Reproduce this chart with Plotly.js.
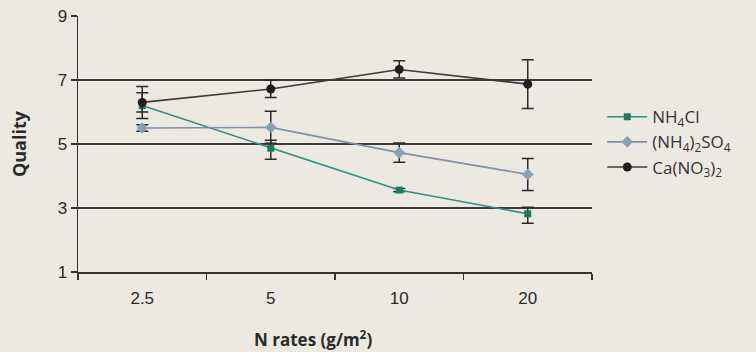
<!DOCTYPE html>
<html>
<head>
<meta charset="utf-8">
<script src="https://cdn.plot.ly/plotly-3.0.1.min.js"></script>
<style>html,body{margin:0;padding:0;background:#ebe7e0;}</style>
</head>
<body>
<div id="chart" style="width:756px;height:352px;"></div>
<script>
var categories = ["2.5", "5", "10", "20"];
var nh4clValues = [6.2, 4.87, 3.56, 2.82];
var nh4clErrPlus = [0.4, 0.25, 0.05, 0.2];
var nh4clErrMinus = [0.2, 0.35, 0.05, 0.3];
var so4Values = [5.5, 5.52, 4.73, 4.05];
var so4Err = [0.1, 0.5, 0.3, 0.5];
var caValues = [6.3, 6.72, 7.33, 6.87];
var caErr = [0.5, 0.27, 0.27, 0.76];
var seriesNames = ["NH<sub>4</sub>Cl", "(NH<sub>4</sub>)<sub>2</sub>SO<sub>4</sub>", "Ca(NO<sub>3</sub>)<sub>2</sub>"];
var yTicks = [1, 3, 5, 7, 9];
var xTitle = "<b>N rates (g/m<sup>2</sup>)</b>";
var yTitle = "<b>Quality</b>";

function mkTrace(name, vals, plus, minus, lineColor, mColor, symbol, size) {
  return {
    type: 'scatter', mode: 'lines+markers', name: name,
    x: categories, y: vals,
    line: {color: lineColor, width: 1.6},
    marker: {color: mColor, symbol: symbol, size: size},
    error_y: {type: 'data', array: plus, arrayminus: minus, symmetric: false,
      color: '#2a2a2a', thickness: 1.5, width: 6}
  };
}

var data = [
  mkTrace(seriesNames[0], nh4clValues, nh4clErrPlus, nh4clErrMinus, '#2f8f83', '#1f7a5e', 'square', 7),
  mkTrace(seriesNames[1], so4Values, so4Err, so4Err, '#8090a8', '#8aa0b0', 'diamond', 9),
  mkTrace(seriesNames[2], caValues, caErr, caErr, '#3a3a3a', '#1e1e1e', 'circle', 9)
];

var layout = {
  width: 756, height: 352,
  paper_bgcolor: '#ece9e3', plot_bgcolor: '#ece9e3',
  margin: {l: 78, r: 164, t: 16, b: 80},
  font: {family: 'Liberation Sans, Arial, sans-serif', color: '#2a2a2a'},
  showlegend: true,
  legend: {x: 1.02, xanchor: 'left', y: 0.675, yanchor: 'top', bgcolor: 'rgba(0,0,0,0)',
    itemwidth: 40, font: {family: 'Open Sans, sans-serif', size: 17, color: '#333'}},
  xaxis: {
    type: 'category', categoryorder: 'array', categoryarray: categories,
    range: [-0.5, 3.5], tickson: 'boundaries', ticks: 'outside', ticklen: 6, tickwidth: 1.5, tickcolor: '#333',
    showline: true, linecolor: '#333', linewidth: 1.5, showgrid: false, zeroline: false,
    ticklabelstandoff: 10,
    tickfont: {size: 17, color: '#2a2a2a', family: 'Liberation Sans, Arial, sans-serif'}
  },
  yaxis: {
    range: [1, 9], tickvals: yTicks, ticktext: yTicks.map(String),
    ticks: 'outside', ticklen: 6, tickwidth: 1.5, tickcolor: '#333',
    showline: true, linecolor: '#333', linewidth: 1.5,
    showgrid: true, gridcolor: '#3d3a40', gridwidth: 1.5, zeroline: false,
    tickfont: {size: 17, color: '#2a2a2a'},
    title: {text: yTitle, font: {size: 18, color: '#2a2a2a', family: 'Open Sans, sans-serif'}, standoff: 26}
  },
  annotations: [{
    text: xTitle, xref: 'paper', yref: 'paper', x: 0.457, y: -0.258,
    xanchor: 'center', yanchor: 'middle', showarrow: false,
    font: {size: 17, color: '#2a2a2a', family: 'Open Sans, sans-serif'}
  }]
};

Plotly.newPlot('chart', data, layout, {displayModeBar: false, staticPlot: true});
</script>
</body>
</html>
